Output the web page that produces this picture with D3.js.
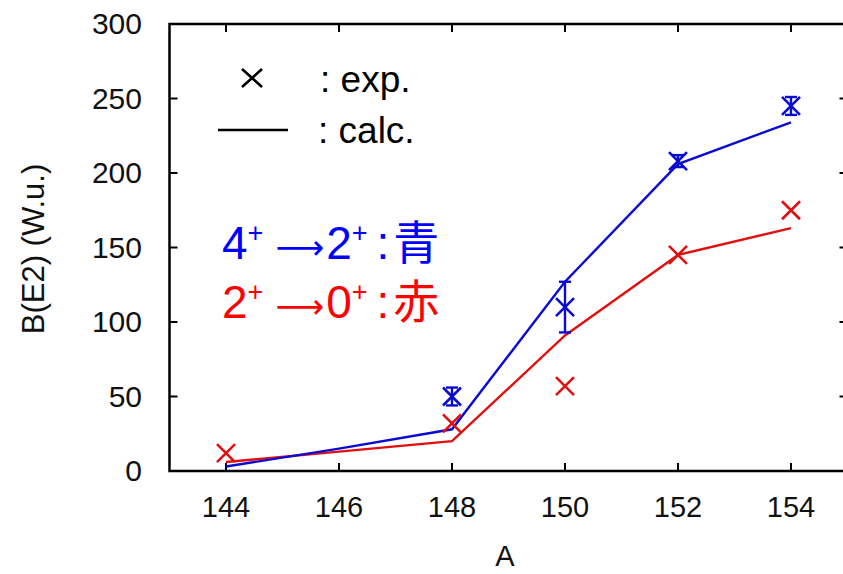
<!DOCTYPE html>
<html>
<head>
<meta charset="utf-8">
<script src="https://cdn.jsdelivr.net/npm/d3@7"></script>
<style>
  html, body { margin: 0; padding: 0; background: #fff; }
  svg { display: block; }
  text { font-family: "Liberation Sans", Arial, sans-serif; }
</style>
</head>
<body>
<svg id="chart" width="843" height="574"></svg>
<script>
// Mass number A
const massNumbers = [144, 146, 148, 150, 152, 154];
// Calculated B(E2) (W.u.)
const calc42 = [3, 15, 28, 127, 206, 234];   // 4+ -> 2+
const calc20 = [6, 13, 20, 91, 145, 163];    // 2+ -> 0+
// Experimental B(E2) (W.u.)
const exp42A = [148, 150, 152, 154];
const exp42 = [50, 110, 208, 245];
const exp42Err = [6, 17, 4, 6];
const exp20A = [144, 148, 150, 152, 154];
const exp20 = [12, 32, 57, 145, 175];
// Axis ticks
const xTicks = [144, 146, 148, 150, 152, 154];
const yTicks = [0, 50, 100, 150, 200, 250, 300];

const BLUE = "#0a0ad2";
const RED = "#e01010";

const svg = d3.select("#chart");
const x = d3.scaleLinear().domain([143, 155]).range([169.5, 847.5]);
const y = d3.scaleLinear().domain([0, 300]).range([471, 24]);

// Frame
svg.append("rect")
  .attr("x", x(143)).attr("y", y(300))
  .attr("width", x(155) - x(143)).attr("height", y(0) - y(300))
  .attr("fill", "none").attr("stroke", "#000").attr("stroke-width", 2.5);

// Inward ticks on all four sides
const tk = 8;
const ticksG = svg.append("g").attr("stroke", "#000").attr("stroke-width", 2);
xTicks.forEach(v => {
  ticksG.append("line").attr("x1", x(v)).attr("x2", x(v)).attr("y1", y(0)).attr("y2", y(0) - tk);
  ticksG.append("line").attr("x1", x(v)).attr("x2", x(v)).attr("y1", y(300)).attr("y2", y(300) + tk);
});
yTicks.forEach(v => {
  ticksG.append("line").attr("x1", x(143)).attr("x2", x(143) + tk).attr("y1", y(v)).attr("y2", y(v));
  ticksG.append("line").attr("x1", x(155)).attr("x2", x(155) - tk).attr("y1", y(v)).attr("y2", y(v));
});

// Tick labels
svg.append("g").selectAll("text").data(xTicks).join("text")
  .attr("x", d => x(d)).attr("y", 517)
  .attr("text-anchor", "middle").attr("font-size", 29).attr("fill", "#111")
  .text(d => d);
svg.append("g").selectAll("text").data(yTicks).join("text")
  .attr("x", 142).attr("y", d => y(d) + 10)
  .attr("text-anchor", "end").attr("font-size", 30).attr("fill", "#111")
  .text(d => d);

// Axis titles
svg.append("text").attr("x", 505).attr("y", 566)
  .attr("text-anchor", "middle").attr("font-size", 29).attr("fill", "#111").text("A");
svg.append("text")
  .attr("transform", "translate(44,249) rotate(-90)")
  .attr("text-anchor", "middle").attr("font-size", 31).attr("fill", "#111")
  .text("B(E2) (W.u.)");

// Calculated curves
const line = d3.line().x((d, i) => x(massNumbers[i])).y(d => y(d));
svg.append("path").datum(calc20).attr("d", line)
  .attr("fill", "none").attr("stroke", RED).attr("stroke-width", 2.4);
svg.append("path").datum(calc42).attr("d", line)
  .attr("fill", "none").attr("stroke", BLUE).attr("stroke-width", 2.4);

// Cross marker path
function cross(cx, cy, hw, hh) {
  return `M${cx - hw},${cy - hh}L${cx + hw},${cy + hh}M${cx - hw},${cy + hh}L${cx + hw},${cy - hh}`;
}

// Experimental 2+ -> 0+
svg.append("g").selectAll("path").data(exp20).join("path")
  .attr("d", (d, i) => cross(x(exp20A[i]), y(d), 9, 9))
  .attr("stroke", RED).attr("stroke-width", 2.6).attr("fill", "none");

// Experimental 4+ -> 2+ with error bars
const eg = svg.append("g").attr("stroke", BLUE).attr("fill", "none");
exp42.forEach((d, i) => {
  const cx = x(exp42A[i]);
  const lo = y(d - exp42Err[i]), hi = y(d + exp42Err[i]);
  eg.append("line").attr("x1", cx).attr("x2", cx).attr("y1", lo).attr("y2", hi).attr("stroke-width", 2.4);
  eg.append("line").attr("x1", cx - 6).attr("x2", cx + 6).attr("y1", lo).attr("y2", lo).attr("stroke-width", 2.4);
  eg.append("line").attr("x1", cx - 6).attr("x2", cx + 6).attr("y1", hi).attr("y2", hi).attr("stroke-width", 2.4);
  eg.append("path").attr("d", cross(cx, y(d), 9, 9)).attr("stroke-width", 2.6);
});

// Key
svg.append("path").attr("d", cross(252, 78, 10, 9))
  .attr("stroke", "#000").attr("stroke-width", 2.6).attr("fill", "none");
svg.append("line").attr("x1", 218).attr("x2", 288).attr("y1", 130).attr("y2", 130)
  .attr("stroke", "#000").attr("stroke-width", 2.6);
svg.append("text").attr("x", 320).attr("y", 92)
  .attr("font-family", "Lato, 'Open Sans', sans-serif").attr("font-size", 37).attr("fill", "#000")
  .text(": exp.");
svg.append("text").attr("x", 318).attr("y", 143)
  .attr("font-family", "Lato, 'Open Sans', sans-serif").attr("font-size", 37).attr("fill", "#000")
  .text(": calc.");

// Transition labels
const transitions = [
  { from: "4", to: "2", name: "青", color: "#0000ff", base: 259 },
  { from: "2", to: "0", name: "赤", color: "#ff0000", base: 318 }
];
transitions.forEach(t => {
  const tx = svg.append("text").attr("x", 222).attr("y", t.base)
    .attr("font-size", 46).attr("fill", t.color)
    .attr("font-family", "'Liberation Sans', 'Noto Sans CJK JP', sans-serif");
  tx.append("tspan").text(t.from);
  tx.append("tspan").attr("font-size", 27).attr("dy", -17).text("+");
  tx.append("tspan").attr("dy", 17).attr("dx", 12)
    .attr("font-family", "'DejaVu Sans', sans-serif").attr("font-size", 34).text("⟶");
  tx.append("tspan").attr("dx", 2).text(t.to);
  tx.append("tspan").attr("font-size", 27).attr("dy", -17).text("+");
  tx.append("tspan").attr("dy", 17).attr("dx", 9).text(":");
  tx.append("tspan").attr("dx", 4).attr("font-family", "'Noto Sans CJK JP', sans-serif").attr("font-size", 46).text(t.name);
});
</script>
</body>
</html>
